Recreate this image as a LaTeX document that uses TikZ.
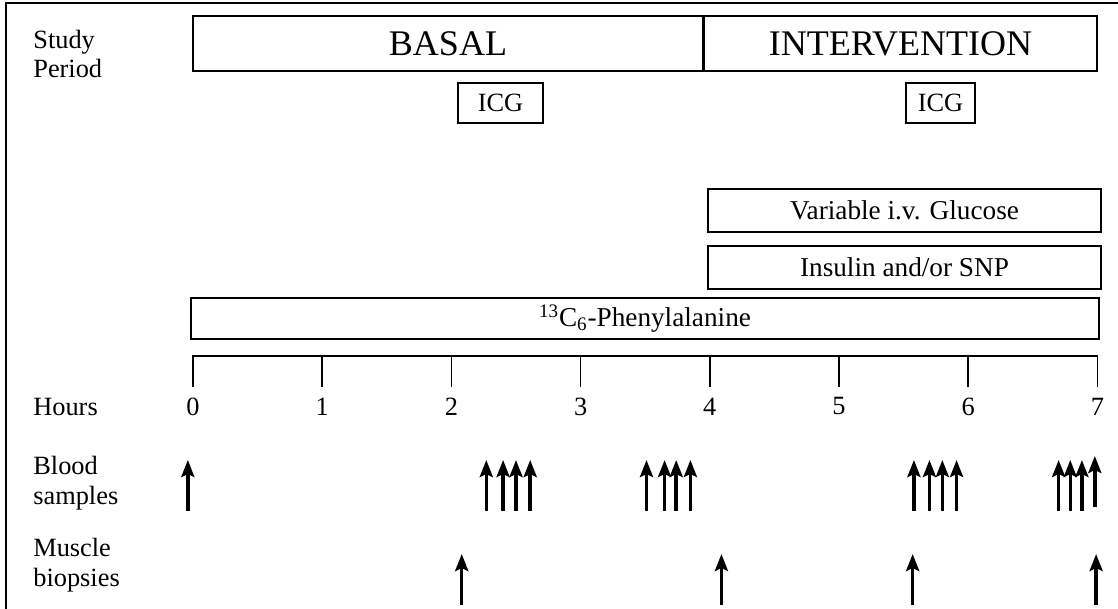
\documentclass[tikz,border=0pt]{standalone}
\usepackage{fontspec}
\setmainfont{Liberation Serif}
\usetikzlibrary{arrows.meta}

\begin{document}
\begin{tikzpicture}[
    x=1cm,y=1cm,>=Stealth,
    periodbox/.style={draw,line width=1pt,minimum height=1.1cm,inner sep=0pt,
      font=\fontsize{20.5}{24}\selectfont},
    icgbox/.style={draw,line width=1pt,minimum height=.8cm,inner sep=0pt,
      font=\fontsize{15}{17}\selectfont},
    infusion/.style={draw,line width=1pt,minimum height=.85cm,inner sep=0pt,
      font=\fontsize{15.5}{17}\selectfont},
    rowlabel/.style={anchor=west,align=left,inner sep=0pt,
      font=\fontsize{15}{17}\selectfont},
    hourlabel/.style={inner sep=0pt,font=\fontsize{15}{17}\selectfont},
    sample/.style={-{Stealth[length=3.4mm,width=2.6mm,inset=.6mm]},line width=2pt}
  ]
    \useasboundingbox (0,0) rectangle (22.36,12.18);
    \draw[line width=1pt] (0.12,-0.5) -- (0.12,12.12) -- (23,12.12);

    % row labels
    \node[rowlabel] (study) at (0.66,11.1) {Study\\Period};
    \node[rowlabel] (hours) at (0.66,4.04) {Hours};
    \node[rowlabel] (blood) at (0.66,2.52) {Blood\\samples};
    \node[rowlabel] (muscle) at (0.66,0.88) {Muscle\\biopsies};

    % study periods
    \node[periodbox,minimum width=10.2cm] (basal) at (8.96,11.31) {BASAL};
    \node[periodbox,minimum width=7.86cm] (interv) at (18.01,11.31) {INTERVENTION};
    \node[icgbox,minimum width=1.7cm] (icga) at (10.01,10.12) {ICG};
    \node[icgbox,minimum width=1.38cm] (icgb) at (18.81,10.12) {ICG};

    % infusions
    \node[infusion,minimum width=7.86cm] (glucose) at (18.09,7.97) {Variable i.v. Glucose};
    \node[infusion,minimum width=7.86cm] (insulin) at (18.09,6.83) {Insulin and/or SNP};
    \node[infusion,minimum width=18.16cm,minimum height=.82cm] (phe) at (12.9,5.81)
      {\textsuperscript{13}C\textsubscript{6}-Phenylalanine};

    % time axis, one unit per hour
    \begin{scope}[xshift=3.86cm,x=2.584cm]
      \draw[line width=1pt] (0,4.44) -- (0,5.06) -- (7,5.06) -- (7,4.44);
      \foreach \h in {0,...,7}{
        \draw[line width=1pt] (\h,5.06) -- (\h,4.44);
        \node[hourlabel] (h\h) at (\h,4.05) {\h};
      }
      \foreach \t in {-0.04,2.27,2.40,2.50,2.61,3.51,3.65,3.74,3.85,
                      5.58,5.70,5.80,5.91,6.70,6.79,6.88}
        \draw[sample] (\t,1.96) -- (\t,2.98);
      \draw[sample] (6.98,2.04) -- (6.98,3.06);
      \foreach \t in {2.08,4.09,5.57,6.99}
        \draw[sample] (\t,0.08) -- (\t,1.1);
    \end{scope}
\end{tikzpicture}
\end{document}
